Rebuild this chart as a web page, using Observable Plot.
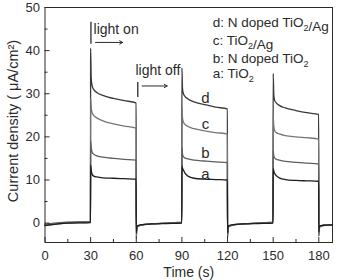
<!DOCTYPE html>
<html>
<head>
<meta charset="utf-8">
<script src="https://cdn.jsdelivr.net/npm/d3@7"></script>
<script src="https://cdn.jsdelivr.net/npm/@observablehq/plot@0.6"></script>
<style>
  body { margin: 0; background: #fff; }
</style>
</head>
<body>
<div id="chart"></div>
<script>
// Sampling times (s) of the chopped-light photocurrent record
const times = [
  0, 15, 29.9,
  30, 30.4, 31, 32, 34, 38, 45, 52, 59.9,
  60, 60.4, 61, 63, 70, 80, 89.9,
  90, 90.4, 91, 92, 94, 98, 105, 112, 119.9,
  120, 120.4, 121, 123, 130, 140, 149.9,
  150, 150.4, 151, 152, 154, 158, 165, 172, 179.9,
  180, 180.4, 181, 183, 189
];

// Current density (µA/cm²) for each sample
const currentD = [
  -0.3, 0.2, 0.3,
  40.5, 33.5, 31.8, 31.0, 30.3, 29.6, 28.9, 28.4, 27.9,
  -3.5, -1.2, -0.8, -0.5, -0.2, 0.0, 0.2,
  36.0, 31.2, 30.0, 29.4, 28.8, 28.1, 27.5, 26.9, 26.5,
  -3.4, -1.2, -0.8, -0.5, -0.2, 0.0, 0.2,
  34.7, 30.0, 28.4, 27.9, 27.3, 26.7, 26.1, 25.6, 25.2,
  -3.0, -1.2, -0.8, -0.6, -0.4
];
const currentC = [
  -0.4, 0.1, 0.2,
  29.0, 26.8, 25.6, 25.0, 24.4, 23.7, 23.0, 22.5, 22.0,
  -3.0, -1.0, -0.7, -0.5, -0.2, 0.0, 0.1,
  27.0, 24.3, 23.4, 22.9, 22.4, 21.9, 21.4, 21.0, 20.7,
  -2.8, -1.0, -0.7, -0.5, -0.2, 0.0, 0.1,
  25.0, 22.6, 21.4, 21.0, 20.7, 20.3, 20.0, 19.8, 19.5,
  -2.6, -1.0, -0.7, -0.5, -0.4
];
const currentB = [
  -0.5, 0.0, 0.2,
  19.0, 17.5, 16.4, 16.0, 15.6, 15.3, 15.0, 14.8, 14.6,
  -2.5, -0.9, -0.6, -0.4, -0.2, 0.0, 0.1,
  17.5, 16.0, 15.4, 15.1, 14.9, 14.6, 14.4, 14.2, 14.0,
  -2.4, -0.9, -0.6, -0.4, -0.2, 0.0, 0.1,
  16.8, 15.6, 15.1, 14.8, 14.6, 14.3, 14.1, 13.9, 13.7,
  -2.3, -0.9, -0.6, -0.5, -0.4
];
const currentA = [
  -0.6, 0.0, 0.1,
  13.5, 12.3, 11.3, 10.9, 10.7, 10.5, 10.4, 10.3, 10.2,
  -2.2, -0.8, -0.6, -0.4, -0.2, -0.1, 0.0,
  13.2, 12.7, 12.3, 11.6, 10.9, 10.4, 10.2, 10.1, 10.0,
  -2.2, -0.8, -0.6, -0.4, -0.2, -0.1, 0.0,
  12.6, 12.1, 11.5, 11.0, 10.5, 10.1, 9.9, 9.8, 9.7,
  -2.0, -0.8, -0.6, -0.5, -0.4
];

const seriesKeys = ["d", "c", "b", "a"];
const seriesValues = [currentD, currentC, currentB, currentA];
const seriesColors = ["#3a3a3a", "#767676", "#5e5e5e", "#1e1e1e"];

// Legend entries
const legendLines = [
  "d: N doped TiO2/Ag",
  "c: TiO2/Ag",
  "b: N doped TiO2",
  "a: TiO2"
];
const legendY = [46.4, 42.4, 38.2, 34.6];
const legendX = 110.3;

// In-plot curve labels
const curveLabelX = [105.5, 105.5, 105.5, 105.5];
const curveLabelY = [28.9, 22.9, 16.2, 11.4];

// Axis ticks
const xTicks = [0, 30, 60, 90, 120, 150, 180];
const xMinorTicks = [15, 45, 75, 105, 135, 165];
const yTicks = [0, 10, 20, 30, 40, 50];
const yMinorTicks = [5, 15, 25, 35, 45];

const xLabel = "Time (s)";
const yLabel = "Current density ( μA/cm²)";

const W = 339, H = 280;
const mL = 44.5, mR = 7, mT = 7, mB = 38;
const plotW = W - mL - mR, plotH = H - mT - mB;

const rows = seriesKeys.flatMap((k, i) =>
  times.map((t, j) => ({series: k, t, v: seriesValues[i][j]}))
);

const ink = "#2b2b2b";

const chart = Plot.plot({
  width: W,
  height: H,
  marginLeft: mL,
  marginRight: mR,
  marginTop: mT,
  marginBottom: mB,
  x: {domain: [0, 189]},
  y: {domain: [-4.5, 50]},
  color: {domain: seriesKeys, range: seriesColors},
  style: {fontFamily: "'Liberation Sans', Arial, sans-serif", fontSize: "13px", background: "#fff", color: ink},
  marks: [
    Plot.line(rows, {x: "t", y: "v", z: "series", stroke: "series", strokeWidth: 1.3, curve: "monotone-x"}),
    Plot.frame({stroke: ink, strokeWidth: 1}),
    // inward ticks
    Plot.ruleX(xTicks, {x: d => d, insetTop: plotH - 5, stroke: ink}),
    Plot.ruleX(xMinorTicks, {x: d => d, insetTop: plotH - 3, stroke: ink}),
    Plot.ruleY(yTicks, {y: d => d, insetRight: plotW - 5, stroke: ink}),
    Plot.ruleY(yMinorTicks, {y: d => d, insetRight: plotW - 3, stroke: ink}),
    Plot.axisX(xTicks, {tickSize: 0, tickPadding: 8, label: null, tickFormat: d => String(d), fontSize: 13}),
    Plot.axisY(yTicks, {tickSize: 0, tickPadding: 5, label: null, tickFormat: d => String(d), fontSize: 13}),
    Plot.text([xLabel], {frameAnchor: "bottom", dy: 34.5, fontSize: 14, fill: ink}),
    Plot.text([yLabel], {frameAnchor: "left", textAnchor: "middle", rotate: -90, dx: -32, dy: -4, fontSize: 14.5, fill: ink}),
    // light on / light off annotations
    Plot.ruleX([30.2], {x: d => d, y1: 46.6, y2: 41.5, stroke: ink, strokeWidth: 1.3}),
    Plot.arrow([{x1: 33.2, x2: 51, y: 41.9}], {x1: "x1", x2: "x2", y1: "y", y2: "y", headLength: 5, stroke: ink, strokeWidth: 1}),
    Plot.text(["light on"], {x: 31.9, y: 44.9, textAnchor: "start", fontSize: 14, fill: ink}),
    Plot.ruleX([61], {x: d => d, y1: 32.6, y2: 29.1, stroke: ink, strokeWidth: 1.3}),
    Plot.arrow([{x1: 63.9, x2: 80.3, y: 31.8}], {x1: "x1", x2: "x2", y1: "y", y2: "y", headLength: 5, stroke: ink, strokeWidth: 1}),
    Plot.text(["light off"], {x: 59.5, y: 35.4, textAnchor: "start", fontSize: 14, fill: ink}),
    // legend
    Plot.text(legendLines, {x: legendX, y: (d, i) => legendY[i], textAnchor: "start", fontSize: 13.5, fill: ink}),
    // curve labels
    Plot.text(seriesKeys, {x: (d, i) => curveLabelX[i], y: (d, i) => curveLabelY[i], fontSize: 15, fill: ink})
  ]
});

// Render the "2" of TiO2 as a subscript
d3.select(chart).selectAll("text").each(function () {
  const node = this;
  const s = node.textContent;
  if (!s.includes("TiO2")) return;
  const parts = s.split("TiO2");
  node.textContent = "";
  const sel = d3.select(node);
  parts.forEach((p, i) => {
    if (p) sel.append("tspan").text(p);
    if (i < parts.length - 1) {
      sel.append("tspan").text("TiO");
      sel.append("tspan").attr("dy", 4).attr("font-size", 9).text("2");
      sel.append("tspan").attr("dy", -4).text("");
    }
  });
});

document.getElementById("chart").appendChild(chart);
</script>
</body>
</html>
